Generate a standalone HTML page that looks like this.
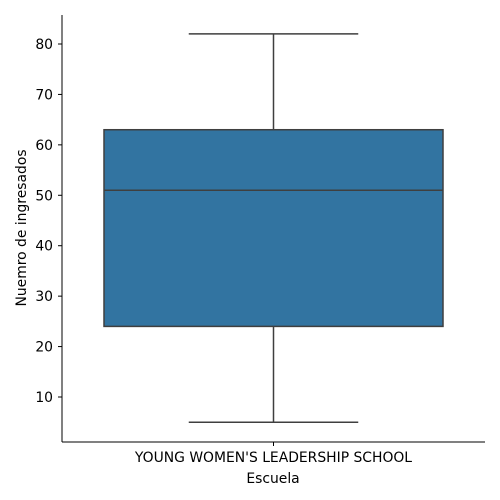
<!DOCTYPE html>
<html><head><meta charset="utf-8"><style>body{margin:0;background:#fff}svg{display:block;font-family:"DejaVu Sans","Liberation Sans",sans-serif}</style></head>
<body>
<svg id="c" width="500" height="500"></svg>
<script>
const categories=["YOUNG WOMEN'S LEADERSHIP SCHOOL"];
const whiskerLow=[5];
const q1=[24];
const median=[51];
const q3=[63];
const whiskerHigh=[82];
const yTicks=[10,20,30,40,50,60,70,80];
const ns="http://www.w3.org/2000/svg";
const svg=document.getElementById('c');
const L=62,R=485,T=15,B=442,FS=13.9;
function y(v){return 397-(v-10)*(353/70);}
function x(i){return L+(R-L)*(i+0.5)/categories.length;}
function mk(t,a,p){const e=document.createElementNS(ns,t);for(const k in a)e.setAttribute(k,a[k]);(p||svg).appendChild(e);return e;}
let e=mk('line',{x1:L,y1:T,x2:L,y2:B,stroke:'#000','stroke-width':1});


e=mk('line',{x1:L,y1:B,x2:R,y2:B,stroke:'#000','stroke-width':1});


yTicks.forEach(v=>{
 const g=mk('g',{});
 
 
 mk('line',{x1:L-4,x2:L,y1:y(v),y2:y(v),stroke:'#000'},g);
 const t=mk('text',{x:L-9,y:y(v)+5,'text-anchor':'end','font-size':FS,fill:'#000'},g);t.textContent=v;
});
categories.forEach((c,i)=>{
 const cx=x(i),w=339,bx=cx-w/2;
 const g=mk('g',{});
 
 
 mk('line',{x1:cx,x2:cx,y1:y(whiskerLow[i]),y2:y(q1[i]),stroke:'#3f3f3f','stroke-width':1.5},g);
 mk('line',{x1:cx,x2:cx,y1:y(q3[i]),y2:y(whiskerHigh[i]),stroke:'#3f3f3f','stroke-width':1.5},g);
 mk('line',{x1:cx-w/4,x2:cx+w/4,y1:y(whiskerLow[i]),y2:y(whiskerLow[i]),stroke:'#3f3f3f','stroke-width':1.5},g);
 mk('line',{x1:cx-w/4,x2:cx+w/4,y1:y(whiskerHigh[i]),y2:y(whiskerHigh[i]),stroke:'#3f3f3f','stroke-width':1.5},g);
 mk('rect',{x:bx,y:y(q3[i]),width:w,height:y(q1[i])-y(q3[i]),fill:'#3274a1',stroke:'#3f3f3f','stroke-width':1.5},g);
 mk('line',{x1:bx,x2:bx+w,y1:y(median[i]),y2:y(median[i]),stroke:'#3f3f3f','stroke-width':1.5},g);
 mk('line',{x1:cx,x2:cx,y1:B,y2:B+4,stroke:'#000'},g);
 const t=mk('text',{x:cx,y:B+20,'text-anchor':'middle','font-size':FS,fill:'#000'});t.textContent=c;
 
 
});
e=mk('text',{x:273,y:483,'text-anchor':'middle','font-size':FS,fill:'#000'});e.textContent='Escuela';


e=mk('text',{x:0,y:0,'text-anchor':'middle','font-size':FS,fill:'#000',transform:'translate(26,228) rotate(-90)'});e.textContent='Nuemro de ingresados';


</script>
</body></html>
